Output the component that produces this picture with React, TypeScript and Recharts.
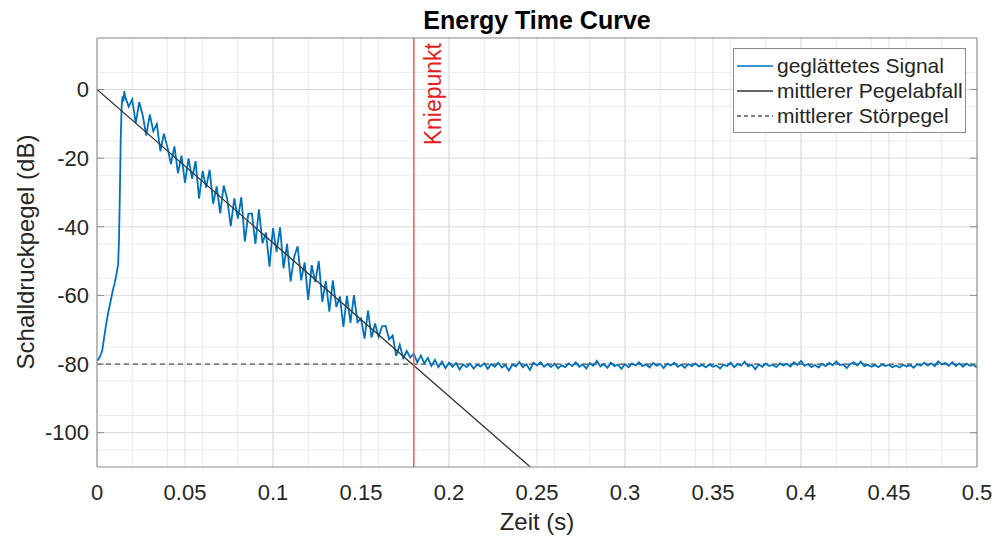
import {
  CartesianGrid,
  ComposedChart,
  Label,
  Legend,
  Line,
  ReferenceLine,
  XAxis,
  YAxis,
} from 'recharts';

const xTicks = [0, 0.05, 0.1, 0.15, 0.2, 0.25, 0.3, 0.35, 0.4, 0.45, 0.5];
const yTicks = [-100, -80, -60, -40, -20, 0];

// onset of the measured signal (t in s, level in dB)
const riseTimes = [0, 0.001, 0.002, 0.003, 0.004, 0.005, 0.006, 0.007, 0.008, 0.009, 0.01, 0.011, 0.012, 0.0125, 0.013, 0.0135, 0.014, 0.0145, 0.015, 0.0155];
const riseLevels = [-79, -78.5, -77.5, -76, -72.5, -69, -66, -63.5, -61, -58.5, -56.5, -54, -51, -44, -30, -14, -5, -2, -3.5, -0.5];

// sampled every 2 ms
const sampleStep = 0.002;
const decayStart = 0.016;
const decayLevels = [
  -2.1, -5.0, -2.9, -9.8, -3.7, -7.6, -13.4, -7.3, -12.2, -10.1,
  -18.0, -12.9, -16.8, -21.7, -16.6, -24.4, -19.3, -27.2, -20.1, -26.0,
  -20.9, -31.8, -23.7, -28.6, -23.4, -33.3, -28.2, -36.1, -28.0, -31.9,
  -39.8, -31.7, -37.6, -31.4, -44.3, -36.2, -36.1, -45.0, -34.9, -44.8,
  -41.7, -51.6, -40.4, -47.3, -40.2, -52.1, -45.0, -55.9, -48.8, -45.7,
  -55.6, -50.4, -61.3, -51.2, -56.1, -50.0, -61.9, -55.8, -64.7, -55.6,
  -63.4, -60.3, -69.2, -60.1, -68.0, -59.9, -67.8, -66.7, -72.6, -64.4,
  -72.3, -68.2, -72.1, -69.0, -68.9, -72.8, -71.7, -77.6, -74.4, -78.3,
  -76.2, -78.1,
];
const floorStart = 0.18;
const floorLevels = [
  -77.0, -79.5, -77.5, -79.8, -78.2, -80.6, -78.8, -80.9, -79.3, -81.2,
  -79.6, -80.8, -79.7, -81.6, -80.1, -80.9, -79.9, -81.3, -80.2, -80.7,
  -79.8, -81.4, -80.0, -80.8, -79.6, -81.0, -80.3, -81.9, -80.2, -80.7,
  -79.4, -80.9, -80.1, -81.7, -79.6, -80.4, -79.5, -80.8, -80.0, -80.9,
  -79.9, -81.2, -80.4, -80.9, -79.8, -80.6, -79.5, -80.8, -80.1, -81.3,
  -79.7, -80.5, -79.1, -80.7, -80.0, -81.1, -79.6, -80.6, -80.2, -81.4,
  -80.0, -80.9, -79.8, -80.4, -79.5, -80.6, -80.1, -81.0, -79.7, -80.5,
  -80.0, -81.2, -79.9, -80.4, -79.6, -80.8, -80.2, -81.1, -80.0, -80.6,
  -79.8, -80.7, -80.3, -81.0, -80.1, -80.8, -80.4, -81.3, -80.2, -80.6,
  -79.6, -80.9, -80.0, -80.5, -79.3, -80.7, -80.2, -81.5, -80.1, -80.8,
  -79.9, -80.6, -80.2, -80.9, -79.8, -80.4, -79.9, -80.7, -79.5, -80.3,
  -79.1, -80.5, -80.0, -80.9, -80.3, -81.0, -79.9, -80.6, -79.7, -80.4,
  -79.2, -80.3, -80.1, -81.2, -80.0, -79.5, -80.4, -79.3, -80.6, -80.2,
  -80.8, -80.3, -80.9, -80.1, -80.6, -80.2, -80.9, -80.4, -81.0, -80.2,
  -80.7, -80.3, -81.1, -80.0, -80.5, -79.6, -80.4, -79.8, -80.6, -79.2,
  -80.1, -79.7, -80.5, -79.4, -80.6, -79.8, -80.8, -79.9, -80.5, -80.2,
  -81.0,
];

const fitTimes = [0, 0.2462];
const fitLevels = [0, -110];
const noiseTimes = [0, 0.5];
const noiseLevels = [-80, -80];
const kneeTime = 0.18;

const legendItems = [
  { name: 'geglättetes Signal', color: '#0072BD', dash: undefined },
  { name: 'mittlerer Pegelabfall', color: '#333333', dash: undefined },
  { name: 'mittlerer Störpegel', color: '#555555', dash: '4 3' },
];

const signal = [
  ...riseTimes.map((t, i) => ({ t, v: riseLevels[i] })),
  ...decayLevels.map((v, i) => ({ t: +(decayStart + i * sampleStep).toFixed(4), v })),
  ...floorLevels.map((v, i) => ({ t: +(floorStart + i * sampleStep).toFixed(4), v })),
];
const fit = fitTimes.map((t, i) => ({ t, v: fitLevels[i] }));
const noise = noiseTimes.map((t, i) => ({ t, v: noiseLevels[i] }));

const xMinor = Array.from({ length: 51 }, (_, i) => +(i * 0.01).toFixed(2));
const yMinor = Array.from({ length: 26 }, (_, i) => -110 + i * 5);

const font = '"Liberation Sans", Arial, Helvetica, sans-serif';
const axisColor = '#8c8c8c';
const textColor = '#262626';

// tick marks only, no label
const NoLabel = () => <g />;

const LegendBox = () => (
  <div
    style={{
      border: '1px solid ' + axisColor,
      background: '#fff',
      padding: '4px 2px 4px 3px',
      fontFamily: font,
      fontSize: 21,
      color: textColor,
      lineHeight: '25px',
      whiteSpace: 'nowrap',
    }}
  >
    {legendItems.map(item => (
      <div key={item.name} style={{ display: 'flex', alignItems: 'center' }}>
        <svg width={36} height={10}>
          <line x1={0} y1={5} x2={36} y2={5} stroke={item.color} strokeWidth={1.6} strokeDasharray={item.dash} />
        </svg>
        <span style={{ marginLeft: 4 }}>{item.name}</span>
      </div>
    ))}
  </div>
);

const App = () => {
  return (
    <div style={{ position: 'absolute', left: 0, top: 0, background: '#fff' }}>
      <ComposedChart width={997} height={539} margin={{ top: 38, right: 20, bottom: 0, left: 37 }}>
        <CartesianGrid horizontalValues={yMinor} verticalValues={xMinor} stroke="#ececec" />
        <CartesianGrid horizontalValues={yTicks} verticalValues={xTicks} stroke="#dcdcdc" />

        {/* inward tick marks on all four sides, like a matlab box */}
        <XAxis xAxisId="top" orientation="top" mirror allowDataOverflow type="number" domain={[0, 0.5]} ticks={xTicks} tick={NoLabel} tickSize={7} stroke={axisColor}>
          <Label
            content={() => (
              <text x={537} y={29} textAnchor="middle" fontFamily={font} fontSize={25} fontWeight="bold" fill="#000">
                Energy Time Curve
              </text>
            )}
          />
        </XAxis>
        <XAxis xAxisId="binner" orientation="bottom" mirror allowDataOverflow type="number" domain={[0, 0.5]} ticks={xTicks} tick={NoLabel} tickSize={7} axisLine={false} stroke={axisColor} />
        <YAxis yAxisId="right" orientation="right" mirror allowDataOverflow type="number" domain={[-110, 15]} ticks={yTicks} tick={NoLabel} tickSize={7} stroke={axisColor} />
        <YAxis yAxisId="linner" orientation="left" mirror allowDataOverflow type="number" domain={[-110, 15]} ticks={yTicks} tick={NoLabel} tickSize={7} axisLine={false} stroke={axisColor} />

        <XAxis
          dataKey="t"
          type="number"
          domain={[0, 0.5]}
          ticks={xTicks}
          allowDataOverflow
          height={72}
          tickLine={false}
          tickSize={0}
          tickMargin={17}
          stroke={axisColor}
          tick={{ fill: textColor, fontSize: 22, fontFamily: font }}
        >
          <Label
            content={() => (
              <text x={537} y={530} textAnchor="middle" fontFamily={font} fontSize={24} fill={textColor}>
                Zeit (s)
              </text>
            )}
          />
        </XAxis>
        <YAxis
          type="number"
          domain={[-110, 15]}
          ticks={yTicks}
          allowDataOverflow
          width={60}
          tickLine={false}
          tickSize={0}
          tickMargin={8}
          stroke={axisColor}
          tick={{ fill: textColor, fontSize: 22, fontFamily: font }}
        >
          <Label
            content={() => (
              <text x={34} y={252} transform="rotate(-90 34 252)" textAnchor="middle" fontFamily={font} fontSize={24} fill={textColor}>
                Schalldruckpegel (dB)
              </text>
            )}
          />
        </YAxis>

        <Line data={noise} dataKey="v" stroke="#555555" strokeWidth={1.2} strokeDasharray="5 4" dot={false} isAnimationActive={false} />
        <Line data={signal} dataKey="v" type="linear" stroke="#0072BD" strokeWidth={1.8} dot={false} isAnimationActive={false} />
        <Line data={fit} dataKey="v" stroke="#333333" strokeWidth={1.3} dot={false} isAnimationActive={false} />

        <ReferenceLine
          x={kneeTime}
          stroke="#f05a5a"
          strokeWidth={1.5}
          label={props => {
            const vb = props.viewBox;
            const x = vb.x + 27;
            const y = vb.y + 5;
            return (
              <text x={x} y={y} transform={`rotate(-90 ${x} ${y})`} textAnchor="end" fontFamily={font} fontSize={23} fill="#e3201b">
                Kniepunkt
              </text>
            );
          }}
        />

        <Legend
          layout="vertical"
          align="center"
          verticalAlign="middle"
          content={() => <LegendBox />}
          wrapperStyle={{ left: 733, top: 48, width: 'auto' }}
        />
      </ComposedChart>
    </div>
  );
};

export default App;
